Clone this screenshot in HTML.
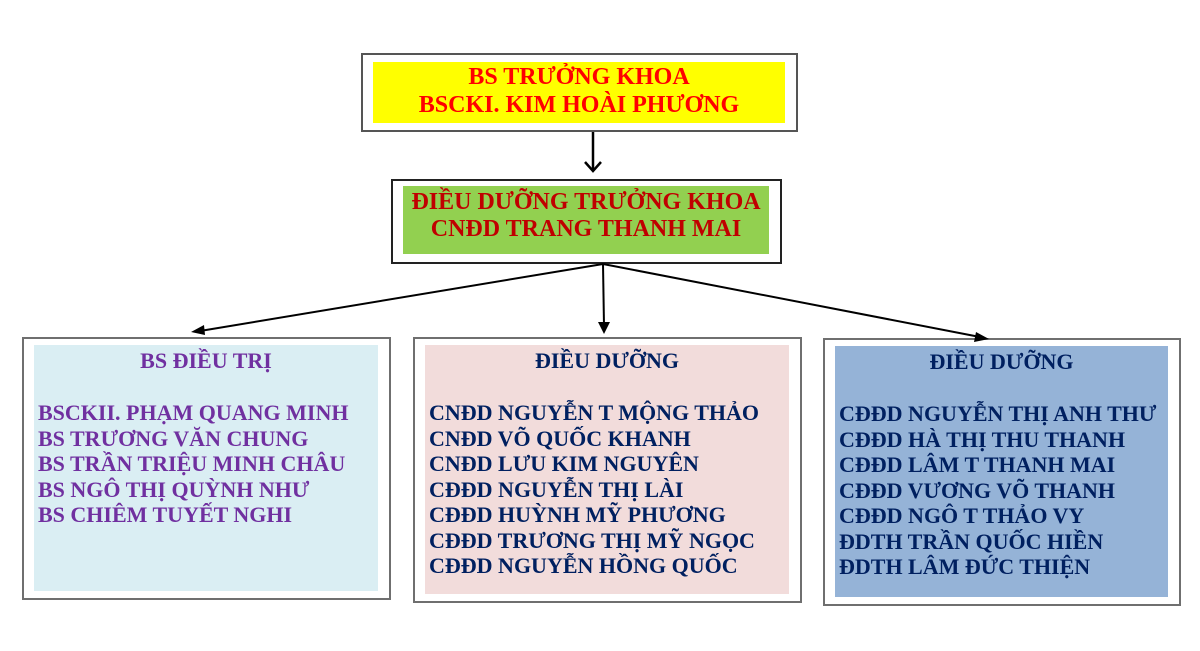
<!DOCTYPE html>
<html><head><meta charset="utf-8"><style>
body{margin:0;width:1200px;height:651px;background:#fff;position:relative;overflow:hidden;font-family:"Liberation Serif",serif;font-weight:bold}
.b{position:absolute;box-sizing:border-box;border:2px solid #6f6f6f;background:#fff}
.i{position:absolute}
.t{position:absolute;white-space:nowrap;line-height:26px}
.c{text-align:center}
</style></head><body>
<div class="b" style="left:361px;top:53px;width:437px;height:79px;border-color:#555"></div>
<div class="i" style="left:373px;top:62px;width:412px;height:61px;background:#ffff00"></div>
<div class="t c" style="left:373px;top:62px;width:412px;color:#ff0000;font-size:24px;line-height:28px;padding-top:1px">BS TRƯỞNG KHOA<br>BSCKI. KIM HOÀI PHƯƠNG</div>

<div class="b" style="left:391px;top:179px;width:391px;height:85px;border-color:#222"></div>
<div class="i" style="left:403px;top:186px;width:366px;height:68px;background:#92d050"></div>
<div class="t c" style="left:403px;top:189px;width:366px;color:#c00000;font-size:24px;line-height:27px">ĐIỀU DƯỠNG TRƯỞNG KHOA<br>CNĐD TRANG THANH MAI</div>

<div class="b" style="left:22px;top:337px;width:369px;height:263px"></div>
<div class="i" style="left:34px;top:345px;width:344px;height:246px;background:#daeef3"></div>
<div class="t c" style="left:34px;top:348px;width:344px;color:#7030a0;font-size:22px">BS ĐIỀU TRỊ</div>
<div class="t" style="left:38px;top:400px;color:#7030a0;font-size:22px;line-height:25.5px">BSCKII. PHẠM QUANG MINH<br>BS TRƯƠNG VĂN CHUNG<br>BS TRẦN TRIỆU MINH CHÂU<br>BS NGÔ THỊ QUỲNH NHƯ<br>BS CHIÊM TUYẾT NGHI</div>

<div class="b" style="left:413px;top:337px;width:389px;height:266px"></div>
<div class="i" style="left:425px;top:345px;width:364px;height:249px;background:#f2dcdb"></div>
<div class="t c" style="left:425px;top:348px;width:364px;color:#002060;font-size:22px">ĐIỀU DƯỠNG</div>
<div class="t" style="left:429px;top:400px;color:#002060;font-size:22px;line-height:25.5px">CNĐD NGUYỄN T MỘNG THẢO<br>CNĐD VÕ QUỐC KHANH<br>CNĐD LƯU KIM NGUYÊN<br>CĐĐD NGUYỄN THỊ LÀI<br>CĐĐD HUỲNH MỸ PHƯƠNG<br>CĐĐD TRƯƠNG THỊ MỸ NGỌC<br>CĐĐD NGUYỄN HỒNG QUỐC</div>

<div class="b" style="left:823px;top:338px;width:358px;height:268px"></div>
<div class="i" style="left:835px;top:346px;width:333px;height:251px;background:#95b3d7"></div>
<div class="t c" style="left:835px;top:349px;width:333px;color:#002060;font-size:22px">ĐIỀU DƯỠNG</div>
<div class="t" style="left:839px;top:401px;color:#002060;font-size:22px;line-height:25.5px">CĐĐD NGUYỄN THỊ ANH THƯ<br>CĐĐD HÀ THỊ THU THANH<br>CĐĐD LÂM T THANH MAI<br>CĐĐD VƯƠNG VÕ THANH<br>CĐĐD NGÔ T THẢO VY<br>ĐDTH TRẦN QUỐC HIỀN<br>ĐDTH LÂM ĐỨC THIỆN</div>

<svg width="1200" height="651" style="position:absolute;left:0;top:0">
<g stroke="#000" stroke-width="2.5" fill="none">
<line x1="593" y1="132" x2="593" y2="170"/>
<polyline points="585,162 593,171 601,162"/>
</g>
<g stroke="#000" stroke-width="2" fill="none">
<line x1="603" y1="264" x2="200" y2="331"/>
<line x1="603" y1="264" x2="604" y2="326"/>
<line x1="603" y1="264" x2="980" y2="337"/>
</g>
<g fill="#000">
<polygon points="191,332 204,325 205,335"/>
<polygon points="604,334 598,322 610,322"/>
<polygon points="989,339 976,332 974,342"/>
</g>
</svg>
</body></html>
